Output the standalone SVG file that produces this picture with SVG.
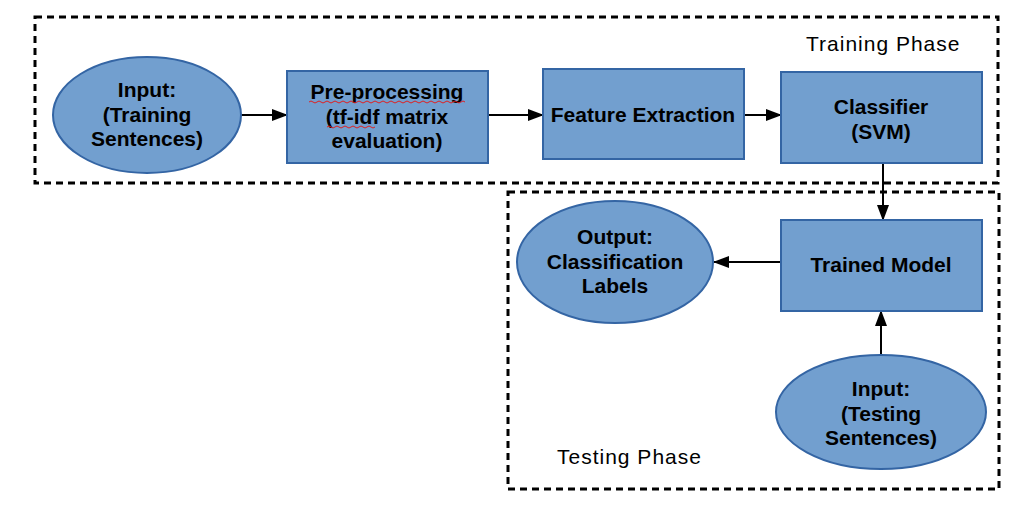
<svg xmlns="http://www.w3.org/2000/svg" width="1020" height="510" viewBox="0 0 1020 510">
<defs>
<style>
.ph{fill:none;stroke:#000;stroke-width:3;stroke-dasharray:7 5}
.n{fill:#729fcf;stroke:#3465a4;stroke-width:2}
.t{font-family:"Liberation Sans",Arial,sans-serif;font-weight:bold;font-size:21px;fill:#000;text-anchor:middle}
.lb{font-family:"Liberation Sans",Arial,sans-serif;font-size:21px;letter-spacing:1px;fill:#000}
.c{stroke:#000;stroke-width:2;fill:none;marker-end:url(#ah)}
.sp{fill:none;stroke:#e02020;stroke-width:1}
</style>
<marker id="ah" markerWidth="16" markerHeight="12" refX="15" refY="6" orient="auto" markerUnits="userSpaceOnUse">
<path d="M0,0 L16,6 L0,12 Z" fill="#000"/>
</marker>
</defs>
<rect width="1020" height="510" fill="#fff"/>
<g id="training-phase">
<rect class="ph" x="35" y="17" width="963" height="166"/>
<text class="lb" x="806" y="51">Training Phase</text>
</g>
<g id="testing-phase">
<rect class="ph" x="508" y="192" width="491" height="297"/>
<text class="lb" x="557" y="464">Testing Phase</text>
</g>
<g id="connectors">
<line class="c" x1="241" y1="115" x2="287" y2="115"/>
<line class="c" x1="488" y1="115" x2="543" y2="115"/>
<line class="c" x1="744" y1="115" x2="781" y2="115"/>
<line class="c" x1="883" y1="163" x2="883" y2="220"/>
<line class="c" x1="781" y1="262" x2="714" y2="262"/>
<line class="c" x1="881" y1="356" x2="881" y2="311"/>
</g>
<g id="input-training">
<ellipse class="n" cx="147" cy="115" rx="94" ry="58"/>
<text class="t" x="147" y="97">Input:</text>
<text class="t" x="147" y="122">(Training</text>
<text class="t" x="147" y="146">Sentences)</text>
</g>
<g id="preprocessing">
<rect class="n" x="287" y="71" width="201" height="92"/>
<text class="t" x="387" y="99">Pre-processing</text>
<text class="t" x="387" y="124">(tf-idf matrix</text>
<text class="t" x="387" y="148">evaluation)</text>
<path class="sp" d="M309,102 q2,-2 4,0 t4,0 t4,0 t4,0 t4,0 t4,0 t4,0 t4,0 t4,0 t4,0 t4,0 t4,0 t4,0 t4,0 t4,0 t4,0 t4,0 t4,0 t4,0 t4,0 t4,0 t4,0 t4,0 t4,0 t4,0 t4,0 t4,0 t4,0 t4,0 t4,0 t4,0 t4,0 t4,0 t4,0 t4,0 t4,0 t4,0 t4,0 t4,0"/>
<path class="sp" d="M327,127 q2,-2 4,0 t4,0 t4,0 t4,0 t4,0 t4,0 t4,0 t4,0 t4,0 t4,0 t4,0 t4,0"/>
</g>
<g id="feature-extraction">
<rect class="n" x="543" y="69" width="201" height="90"/>
<text class="t" x="643" y="122">Feature Extraction</text>
</g>
<g id="classifier">
<rect class="n" x="781" y="72" width="201" height="91"/>
<text class="t" x="881" y="114">Classifier</text>
<text class="t" x="881" y="139">(SVM)</text>
</g>
<g id="trained-model">
<rect class="n" x="781" y="220" width="201" height="91"/>
<text class="t" x="881" y="272">Trained Model</text>
</g>
<g id="output-labels">
<ellipse class="n" cx="615" cy="262" rx="98" ry="61"/>
<text class="t" x="615" y="244">Output:</text>
<text class="t" x="615" y="269">Classification</text>
<text class="t" x="615" y="293">Labels</text>
</g>
<g id="input-testing">
<ellipse class="n" cx="881" cy="412" rx="105" ry="57"/>
<text class="t" x="881" y="396">Input:</text>
<text class="t" x="881" y="421">(Testing</text>
<text class="t" x="881" y="445">Sentences)</text>
</g>
</svg>
